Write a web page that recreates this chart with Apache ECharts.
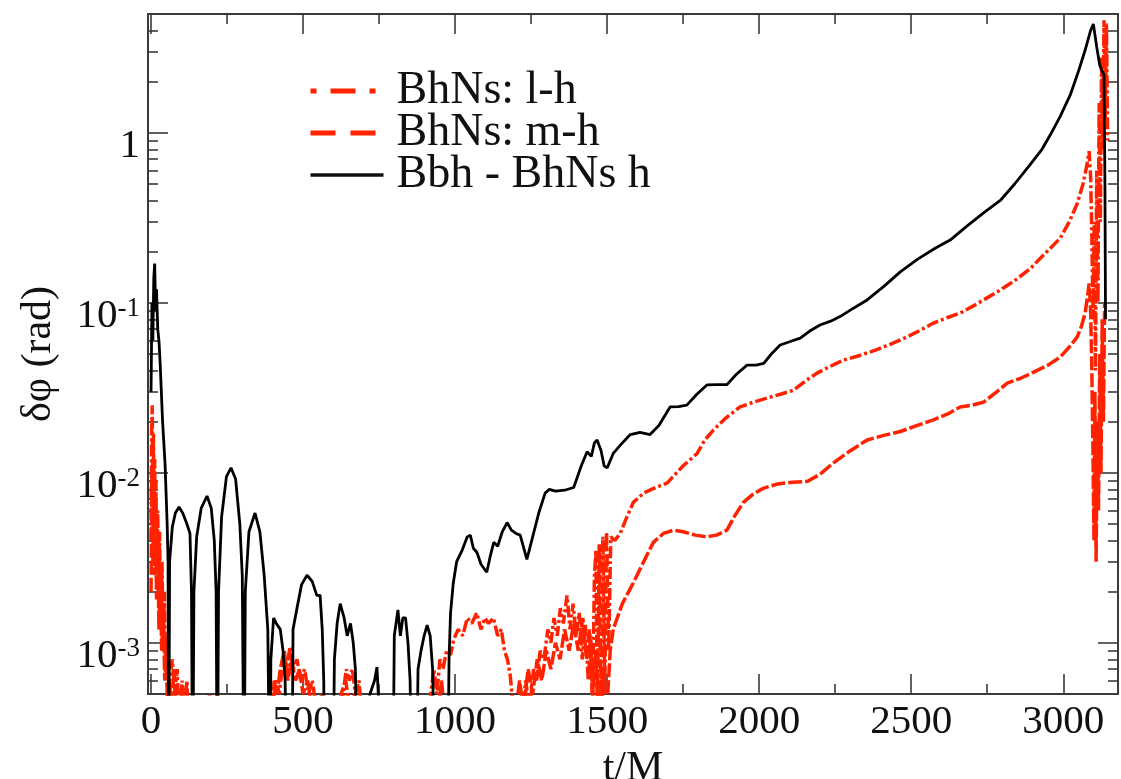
<!DOCTYPE html>
<html>
<head>
<meta charset="utf-8">
<script src="https://cdn.jsdelivr.net/npm/echarts@6/dist/echarts.min.js"></script>
<style>
html,body{margin:0;padding:0;background:#fff;}
#chart{width:1121px;height:779px;}
</style>
</head>
<body>
<div id="chart"></div>
<script>
// ---- data (t/M, delta phi in rad) ----
const seriesNames = ['BhNs: l-h', 'BhNs: m-h', 'Bbh - BhNs h'];
const xMajorTicks = [0, 500, 1000, 1500, 2000, 2500, 3000];
const xMinorTicks = [250, 750, 1250, 1750, 2250, 2750];
const yMajorTicks = [0.001, 0.01, 0.1, 1];
const yMinorTicks = [0.0006, 0.0007, 0.0008, 0.0009,
  0.002, 0.003, 0.004, 0.005, 0.006, 0.007, 0.008, 0.009,
  0.02, 0.03, 0.04, 0.05, 0.06, 0.07, 0.08, 0.09,
  0.2, 0.3, 0.4, 0.5, 0.6, 0.7, 0.8, 0.9, 2, 3, 4];

const lhData = [
[0,0.004],[2,0.018],[4,0.025],[6,0.007],[8,0.017],[10,0.005],[12,0.012],[14,0.003],[16,0.009],[19,0.0025],[22,0.006],[25,0.0018],[28,0.0045],[32,0.0012],[36,0.003],[40,0.0009],[44,0.002],[48,0.0006],[52,0.0011],[56,0.0003],
[62,0.0006],[70,0.0008],[78,0.0005],[86,0.0007],[94,0.0003],[102,0.0006],[110,0.0004],[118,0.0006],[126,0.0002],[150,0.0003],[175,0.0002],[192,0.0005],[205,0.0003],[218,0.0005],[230,0.0002],[270,0.0003],[320,0.0002],[370,0.0003],[398,0.0004],[410,0.0006],[422,0.0005],[434,0.0008],[446,0.0007],[457,0.00095],[468,0.0007],[480,0.0008],[492,0.0006],[505,0.0007],[518,0.0005],[530,0.0006],[545,0.0004],[560,0.0005],[575,0.0002],[620,0.0003],[632,0.0005],[642,0.0007],[652,0.0006],[662,0.0007],[672,0.0005],[684,0.0006],[696,0.0003],[740,0.0002],[800,0.0003],[860,0.0002],[905,0.0003],[920,0.0005],[930,0.0007],[940,0.0005],[950,0.0008],
[960,0.0007],[972,0.0009],[985,0.00085],[995,0.00104],[1010,0.0012],[1025,0.0011],[1040,0.0014],[1055,0.0013],[1071,0.0015],[1085,0.0012],[1098,0.0014],[1110,0.0013],[1126,0.0014],[1140,0.0011],[1152,0.0012],[1162,0.0009],[1172,0.0008],[1181,0.00065],[1192,0.0004],[1205,0.0002],[1222,0.0004],[1232,0.0006],[1245,0.0004],[1258,0.0007],[1268,0.0006],[1280,0.0009],[1292,0.0008],[1305,0.0012],[1315,0.001],[1325,0.0014],[1336,0.0011],[1346,0.0016],[1356,0.0013],[1368,0.0019],[1378,0.0012],[1388,0.0017],[1398,0.0011],[1408,0.0015],[1418,0.0008],[1428,0.0013],[1438,0.0006],[1446,0.0011],[1452,0.0004],[1458,0.0024],[1463,0.0035],[1468,0.0004],[1474,0.0038],[1480,0.0003],[1486,0.0042],[1492,0.0005],[1498,0.0045],[1505,0.0009],[1512,0.0042],[1525,0.004],[1543,0.0044],[1565,0.0055],[1586,0.0067],[1620,0.0076],[1660,0.0082],[1697,0.0087],[1750,0.011],[1796,0.013],[1820,0.0155],[1850,0.0179],[1890,0.021],[1937,0.0244],[1980,0.026],[2025,0.0275],[2070,0.029],[2113,0.0306],[2150,0.0345],[2190,0.0386],[2230,0.042],[2277,0.046],[2330,0.049],[2387,0.053],[2440,0.058],[2486,0.063],[2530,0.069],[2573,0.076],[2620,0.082],[2661,0.087],[2700,0.095],[2738,0.104],[2790,0.118],[2840,0.135],[2890,0.158],[2940,0.195],[2990,0.24],[3020,0.3],[3045,0.38],[3065,0.5],[3078,0.65],[3085,0.78],[3090,0.55],[3094,0.25],[3098,0.08],[3102,0.3],[3106,0.04],[3110,0.6],[3114,0.1],[3118,1.5],[3122,0.3],[3126,2.8],[3130,0.8],[3134,4.6],[3138,1.2],[3142,4.4],[3146,0.9]
];

const mhData = [
[0,0.002],[3,0.011],[6,0.003],[9,0.008],[12,0.0025],[15,0.006],[18,0.0018],[22,0.004],[26,0.0012],[30,0.0028],[35,0.0009],[40,0.0016],[45,0.0006],[50,0.001],[55,0.0003],[60,0.0006],[68,0.0004],[76,0.0007],[84,0.0003],[100,0.0002],[140,0.0003],[165,0.0002],[200,0.0003],[260,0.0002],[330,0.0003],[395,0.0003],[405,0.0006],[415,0.0005],[425,0.0007],[438,0.0009],[450,0.0006],[462,0.0008],[475,0.0006],[488,0.0007],[500,0.0005],[515,0.0006],[530,0.0004],[550,0.0002],[610,0.0003],[625,0.0005],[640,0.0006],[655,0.0004],[668,0.0005],[680,0.0002],[760,0.0003],[850,0.0002],[940,0.0003],[955,0.0006],[965,0.0004],[975,0.0002],[1100,0.0003],[1180,0.0002],[1200,0.0004],[1212,0.0006],[1225,0.0004],[1240,0.0007],[1255,0.0005],[1270,0.0008],[1285,0.0006],[1300,0.0009],[1315,0.0007],[1330,0.001],[1345,0.0008],[1360,0.0012],[1375,0.0009],[1390,0.0013],[1405,0.0009],[1420,0.0014],[1432,0.0008],[1442,0.0012],[1452,0.0005],[1462,0.0009],[1472,0.0003],[1482,0.0007],[1492,0.0002],[1502,0.0005],[1510,0.0009],[1520,0.0012],[1550,0.0017],[1586,0.00225],[1620,0.003],[1652,0.0039],[1685,0.0044],[1718,0.0046],[1750,0.0045],[1790,0.0043],[1828,0.0042],[1860,0.0043],[1894,0.0046],[1920,0.0056],[1948,0.0067],[1980,0.0075],[2013,0.0081],[2060,0.0086],[2110,0.0088],[2158,0.0089],[2200,0.0098],[2243,0.0114],[2300,0.0135],[2355,0.0156],[2410,0.0166],[2464,0.0175],[2520,0.019],[2573,0.0205],[2620,0.0222],[2661,0.0244],[2700,0.025],[2737,0.026],[2780,0.0298],[2816,0.0337],[2860,0.036],[2901,0.039],[2950,0.043],[2990,0.048],[3020,0.055],[3046,0.063],[3060,0.073],[3072,0.087],[3080,0.11],[3085,0.13],[3090,0.09],[3094,0.04],[3098,0.012],[3101,0.004],[3104,0.03],[3108,0.003],[3112,0.02],[3116,0.006],[3120,0.05],[3124,0.01],[3128,0.08],[3132,0.02],[3136,0.1]
];

const bbhData = [
[0,0.03],[3,0.1],[6,0.06],[9,0.14],[12,0.17],[15,0.09],[18,0.12],[22,0.07],[26,0.06],[30,0.044],[38,0.02],[46,0.0114],[53,0.005],[56,0.003],[58,0.0001],[61,0.003],[70,0.0048],[80,0.0058],[92,0.0063],[104,0.0058],[118,0.005],[128,0.0044],[133,0.002],[137,0.0001],[141,0.002],[150,0.0042],[165,0.0062],[184,0.0073],[198,0.0062],[208,0.004],[214,0.002],[218,0.0001],[222,0.002],[232,0.0055],[248,0.0095],[263,0.0107],[278,0.0092],[292,0.005],[300,0.0025],[306,0.0001],[310,0.002],[322,0.0045],[342,0.0058],[358,0.0045],[372,0.0025],[384,0.0012],[391,0.0001],[394,0.0008],[403,0.0014],[412,0.0013],[425,0.0012],[434,0.0009],[441,0.0006],[446,0.0001],
[463,0.0001],[467,0.0012],[480,0.0016],[495,0.0022],[513,0.0025],[530,0.0023],[545,0.0019],[556,0.0019],[563,0.0012],[568,0.0006],[571,0.0001],
[598,0.0001],[603,0.0008],[612,0.0013],[622,0.0017],[635,0.0014],[645,0.0011],[656,0.0013],[665,0.001],[672,0.0007],[680,0.0001],
[700,0.0003],[720,0.0005],[735,0.0006],[743,0.00072],[750,0.0004],[760,0.0001],
[795,0.0001],[800,0.0011],[812,0.00156],[820,0.0011],[828,0.0014],[837,0.0014],[845,0.001],[852,0.0006],[858,0.0001],
[872,0.0001],[878,0.0007],[888,0.0009],[898,0.0011],[908,0.00127],[918,0.0011],[926,0.0007],[935,0.0001],
[975,0.0001],[980,0.0008],[985,0.0015],[994,0.00225],[1005,0.003],[1023,0.0035],[1040,0.0042],[1050,0.0043],[1060,0.0036],[1072,0.0034],[1085,0.0029],[1104,0.0026],[1115,0.0032],[1127,0.0039],[1140,0.0037],[1155,0.0045],[1171,0.0051],[1185,0.0046],[1200,0.0044],[1214,0.0043],[1226,0.0036],[1236,0.0031],[1255,0.0042],[1275,0.0058],[1296,0.0076],[1310,0.008],[1330,0.0078],[1360,0.0079],[1390,0.0082],[1415,0.011],[1434,0.0133],[1448,0.0125],[1458,0.015],[1467,0.0156],[1480,0.0135],[1490,0.011],[1500,0.0107],[1520,0.013],[1544,0.0146],[1576,0.0168],[1608,0.0173],[1641,0.0168],[1670,0.019],[1707,0.0244],[1735,0.0245],[1762,0.025],[1795,0.029],[1828,0.0329],[1860,0.033],[1894,0.033],[1925,0.038],[1960,0.043],[1990,0.043],[2015,0.044],[2040,0.05],[2069,0.0565],[2100,0.059],[2135,0.062],[2165,0.068],[2200,0.074],[2235,0.078],[2266,0.083],[2310,0.093],[2355,0.104],[2410,0.125],[2464,0.152],[2520,0.18],[2580,0.21],[2628,0.234],[2680,0.28],[2740,0.34],[2793,0.4],[2840,0.5],[2891,0.65],[2930,0.8],[2957,0.97],[2990,1.25],[3023,1.67],[3050,2.3],[3072,3.07],[3090,4.0],[3099,4.37],[3110,3.2],[3120,2.5],[3128,2.3],[3134,2.2],[3137,0.5],[3139,0.08]
];

// ---- styling ----
const FONT = 'Liberation Serif';
const RED = '#ff2200';
const AXIS_COLOR = '#3a3a3a';
const grid = {left: 148, right: 3, top: 14, bottom: 85, outerBoundsMode: 'none', containLabel: false};

function xAxisCfg(pos, ticks, len, withLabels) {
  return {
    type: 'value', position: pos, min: -10, max: 3180, gridIndex: 0,
    axisLine: {show: true, onZero: false, lineStyle: {color: AXIS_COLOR, width: 2}},
    axisTick: {show: true, inside: true, length: len, customValues: ticks, lineStyle: {color: AXIS_COLOR, width: 1.6}},
    axisLabel: withLabels ? {show: true, customValues: ticks, margin: 8, fontFamily: FONT, fontSize: 41, color: '#111',
      formatter: function (v) { return String(Math.round(v)); }} : {show: false},
    splitLine: {show: false},
    name: withLabels ? 't/M' : '', nameLocation: 'middle', nameGap: 42,
    nameTextStyle: {fontFamily: FONT, fontSize: 42, color: '#111'}
  };
}
function yAxisCfg(pos, ticks, len, withLabels) {
  return {
    type: 'log', logBase: 10, position: pos, min: 0.0005, max: 5, gridIndex: 0,
    axisLine: {show: true, onZero: false, lineStyle: {color: AXIS_COLOR, width: 2}},
    axisTick: {show: true, inside: true, length: len, customValues: ticks, lineStyle: {color: AXIS_COLOR, width: 1.6}},
    axisLabel: withLabels ? {
      show: true, customValues: ticks, margin: 8,
      formatter: function (v) {
        const e = Math.round(Math.log10(v));
        if (e === 0) return '{m|1}';
        return '{m|10}{s|' + e + '}';
      },
      rich: {
        m: {fontFamily: FONT, fontSize: 41, lineHeight: 41, padding: [26, 0, 0, 0], color: '#111'},
        s: {fontFamily: FONT, fontSize: 27, lineHeight: 27, padding: [13, 0, 0, 0], verticalAlign: 'top', color: '#111'}
      }
    } : {show: false},
    splitLine: {show: false},
    name: withLabels ? 'δφ (rad)' : '', nameLocation: 'middle', nameGap: 88, nameRotate: 90,
    nameTextStyle: {fontFamily: FONT, fontSize: 42, color: '#111'}
  };
}

const hiddenSymbol = {opacity: 0, color: 'rgba(0,0,0,0)', borderWidth: 0};

const chart = echarts.init(document.getElementById('chart'), null, {renderer: 'canvas'});
chart.setOption({
  animation: false,
  backgroundColor: '#fff',
  grid: grid,
  xAxis: [
    xAxisCfg('bottom', xMajorTicks, 20, true),
    xAxisCfg('bottom', xMinorTicks, 10, false),
    xAxisCfg('top', xMajorTicks, 20, false),
    xAxisCfg('top', xMinorTicks, 10, false)
  ],
  yAxis: [
    yAxisCfg('left', yMajorTicks, 20, true),
    yAxisCfg('left', yMinorTicks, 10, false),
    yAxisCfg('right', yMajorTicks, 20, false),
    yAxisCfg('right', yMinorTicks, 10, false)
  ],
  legend: {
    show: true, orient: 'vertical', left: 303, top: 63,
    itemWidth: 73, itemHeight: 14, itemGap: -4,
    itemStyle: hiddenSymbol,
    textStyle: {fontFamily: FONT, fontSize: 46, lineHeight: 42, color: '#111', padding: [0, 0, 0, 8]},
    data: [
      {name: seriesNames[0], itemStyle: hiddenSymbol, lineStyle: {color: RED, width: 5, type: [6, 14, 25, 14]}},
      {name: seriesNames[1], itemStyle: hiddenSymbol, lineStyle: {color: RED, width: 5, type: [25, 15]}},
      {name: seriesNames[2], itemStyle: hiddenSymbol, lineStyle: {color: '#111', width: 3.5, type: 'solid'}}
    ]
  },
  series: [
    {name: seriesNames[0], type: 'line', data: lhData, xAxisIndex: 0, yAxisIndex: 0,
     symbol: 'none', clip: true, lineStyle: {color: RED, width: 3.5, type: [12, 3, 3, 3]}, itemStyle: {color: RED}},
    {name: seriesNames[1], type: 'line', data: mhData, xAxisIndex: 0, yAxisIndex: 0,
     symbol: 'none', clip: true, lineStyle: {color: RED, width: 3.5, type: [14, 3]}, itemStyle: {color: RED}},
    {name: seriesNames[2], type: 'line', data: bbhData, xAxisIndex: 0, yAxisIndex: 0,
     symbol: 'none', clip: true, lineStyle: {color: '#000', width: 2.8}, itemStyle: {color: '#000'}}
  ]
});
</script>
</body>
</html>
